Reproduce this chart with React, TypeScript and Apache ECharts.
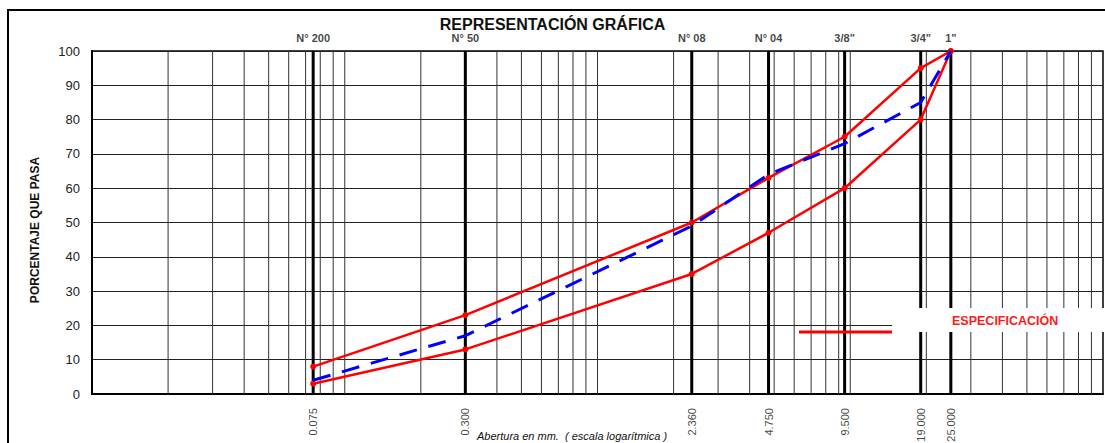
import React, { useEffect, useRef } from "react";
import * as echarts from "echarts";

// Sieve openings (mm) and their names
const sieveSizes = [0.075, 0.3, 2.36, 4.75, 9.5, 19, 25];
const sieveNames = ["N° 200", "N° 50", "N° 08", "N° 04", '3/8"', '3/4"', '1"'];
const sieveLabels = ["0.075", "0.300", "2.360", "4.750", "9.500", "19.000", "25.000"];

// Percent passing
const specUpper = [8, 23, 50, 63, 75, 95, 100];
const specLower = [3, 13, 35, 47, 60, 80, 100];
const gradation = [4, 17, 49, 64, 73, 85, 100];

// Log-paper grid lines (mm)
const logGrid = [
  0.02, 0.03, 0.04, 0.05, 0.06, 0.07, 0.08, 0.09, 0.1,
  0.2, 0.3, 0.4, 0.5, 0.6, 0.7, 0.8, 0.9, 1,
  2, 3, 4, 5, 6, 7, 8, 9, 10,
  20, 30, 40, 50, 60, 70, 80, 90,
];

const FONT = "'Liberation Sans', Arial, sans-serif";

function vLineSeries(name: string, values: number[], width: number, color: string, z: number) {
  return {
    name,
    type: "custom",
    silent: true,
    z,
    clip: false,
    data: values.map((v) => [v]),
    renderItem: (params: any, api: any) => {
      const x = api.value(0);
      const p0 = api.coord([x, 0]);
      const p1 = api.coord([x, 100]);
      return {
        type: "line",
        shape: { x1: p0[0], y1: p0[1], x2: p1[0], y2: p1[1] },
        style: { stroke: color, lineWidth: width },
      };
    },
  };
}

export default function App() {
  const ref = useRef<HTMLDivElement>(null);

  useEffect(() => {
    if (!ref.current) return;
    const chart = echarts.init(ref.current, null, { renderer: "svg" });
    const pairs = (vals: number[]) => sieveSizes.map((s, i) => [s, vals[i]]);

    chart.setOption({
      animation: false,
      backgroundColor: "#fff",
      textStyle: { fontFamily: FONT },
      title: {
        text: "REPRESENTACIÓN GRÁFICA",
        left: "center",
        top: 11,
        textStyle: { fontFamily: FONT, fontSize: 16, fontWeight: "bold", color: "#111" },
      },
      grid: {
        left: 92,
        right: 2,
        top: 51,
        bottom: 49,
        show: true,
        borderColor: "#000",
        borderWidth: 1.5,
      },
      xAxis: {
        type: "log",
        logBase: 10,
        min: 0.01,
        max: 100,
        axisLine: { show: true, lineStyle: { color: "#000", width: 2 } },
        axisTick: { show: false },
        axisLabel: { show: false },
        splitLine: { show: false },
      },
      yAxis: {
        type: "value",
        min: 0,
        max: 100,
        interval: 10,
        axisLine: { show: true, lineStyle: { color: "#000", width: 2 } },
        axisTick: { show: false },
        axisLabel: { fontFamily: FONT, fontSize: 13, color: "#222", margin: 12 },
        splitLine: { show: true, lineStyle: { color: "#222", width: 1 } },
      },
      series: [
        vLineSeries("grid", logGrid, 1, "#333", 1),
        vLineSeries("sieves", sieveSizes, 3, "#000", 2),
        {
          name: "topLabels",
          type: "scatter",
          silent: true,
          symbolSize: 0.1,
          itemStyle: { color: "rgba(0,0,0,0)" },
          z: 3,
          data: sieveSizes.map((s, i) => ({ value: [s, 100], name: sieveNames[i] })),
          label: {
            show: true,
            position: "top",
            distance: 7,
            formatter: "{b}",
            fontFamily: FONT,
            fontSize: 11,
            fontWeight: "bold",
            color: "#111",
          },
          labelLayout: { hideOverlap: false },
        },
        {
          name: "bottomLabels",
          type: "scatter",
          silent: true,
          symbolSize: 0.1,
          itemStyle: { color: "rgba(0,0,0,0)" },
          z: 3,
          data: sieveSizes.map((s, i) => ({ value: [s, 0], name: sieveLabels[i] })),
          label: {
            show: true,
            position: "bottom",
            distance: 14,
            rotate: 90,
            align: "right",
            verticalAlign: "middle",
            formatter: "{b}",
            fontFamily: FONT,
            fontSize: 11,
            color: "#111",
          },
          labelLayout: { hideOverlap: false },
        },
        {
          name: "ESPECIFICACIÓN superior",
          type: "line",
          data: pairs(specUpper),
          z: 5,
          symbol: "circle",
          symbolSize: 6,
          lineStyle: { color: "#ff0000", width: 2.5 },
          itemStyle: { color: "#ff0000" },
        },
        {
          name: "ESPECIFICACIÓN inferior",
          type: "line",
          data: pairs(specLower),
          z: 5,
          symbol: "circle",
          symbolSize: 6,
          lineStyle: { color: "#ff0000", width: 2.5 },
          itemStyle: { color: "#ff0000" },
        },
        {
          name: "Gradación",
          type: "line",
          data: pairs(gradation),
          z: 6,
          symbol: "none",
          lineStyle: { color: "#0000ff", width: 3, type: [18, 12] },
        },
      ],
      graphic: [
        {
          type: "rect",
          z: 0,
          shape: { x: 8, y: 10, width: 1200, height: 600 },
          style: { fill: "none", stroke: "#000", lineWidth: 2 },
        },
        {
          type: "text",
          x: 35,
          y: 230,
          rotation: Math.PI / 2,
          style: {
            text: "PORCENTAJE QUE PASA",
            fontFamily: FONT,
            fontSize: 12,
            fontWeight: "bold",
            fill: "#111",
            align: "center",
            verticalAlign: "middle",
          },
        },
        {
          type: "text",
          x: 477,
          y: 430,
          style: {
            text: "Abertura en mm.  ( escala logarítmica )",
            fontFamily: FONT,
            fontSize: 11,
            fontStyle: "italic",
            fill: "#111",
          },
        },
        {
          type: "rect",
          z: 100,
          shape: { x: 892, y: 308, width: 220, height: 24 },
          style: { fill: "#fff" },
        },
        {
          type: "line",
          z: 101,
          shape: { x1: 799, y1: 332, x2: 892, y2: 332 },
          style: { stroke: "#ff0000", lineWidth: 3 },
        },
        {
          type: "text",
          z: 101,
          x: 952,
          y: 321,
          style: {
            text: "ESPECIFICACIÓN",
            fontFamily: FONT,
            fontSize: 12.5,
            fontWeight: "bold",
            fill: "#ff1a1a",
            verticalAlign: "middle",
          },
        },
      ],
    });

    return () => chart.dispose();
  }, []);

  return (
    <div
      ref={ref}
      style={{ position: "absolute", left: 0, top: 0, width: 1105, height: 443 }}
    />
  );
}
